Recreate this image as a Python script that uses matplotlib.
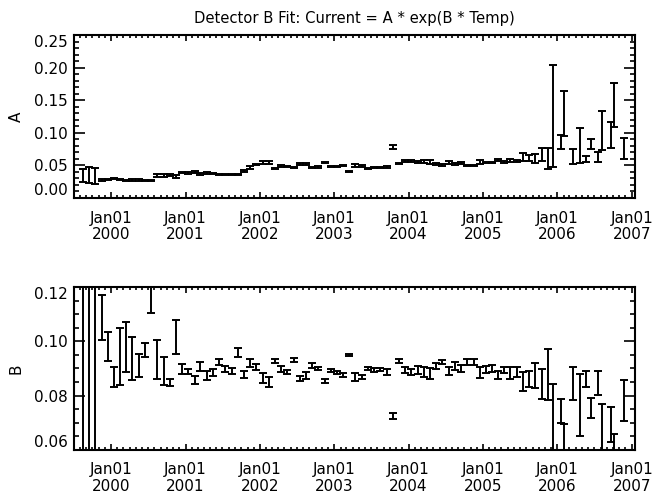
import numpy as np
import pandas as pd
import matplotlib
matplotlib.use('Agg')
from matplotlib import pyplot as plt
import matplotlib.dates as mdates
from matplotlib.ticker import MultipleLocator, FixedLocator

# one fit per (roughly) month; A and B with their 1-sigma errors
dates = ['1999-08-15', '1999-09-15', '1999-10-15', '1999-11-15', '1999-12-15',
         '2000-01-15', '2000-02-15', '2000-03-15', '2000-04-15', '2000-05-15', '2000-06-15',
         '2000-07-15', '2000-08-15', '2000-09-15', '2000-10-15', '2000-11-15', '2000-12-15',
         '2001-01-15', '2001-02-15', '2001-03-15', '2001-04-15', '2001-05-15', '2001-06-15',
         '2001-07-15', '2001-08-15', '2001-09-15', '2001-10-15', '2001-11-15', '2001-12-15',
         '2002-01-15', '2002-02-15', '2002-03-15', '2002-04-15', '2002-05-15', '2002-06-15',
         '2002-07-15', '2002-08-15', '2002-09-15', '2002-10-15', '2002-11-15', '2002-12-15',
         '2003-01-15', '2003-02-15', '2003-03-15', '2003-04-15', '2003-05-15', '2003-06-15',
         '2003-07-15', '2003-08-15', '2003-09-15', '2003-10-15', '2003-11-15', '2003-12-15',
         '2004-01-15', '2004-02-15', '2004-03-15', '2004-04-15', '2004-05-15', '2004-06-15',
         '2004-07-15', '2004-08-15', '2004-09-15', '2004-10-15', '2004-11-15', '2004-12-15',
         '2005-01-15', '2005-02-15', '2005-03-15', '2005-04-15', '2005-05-15', '2005-06-15',
         '2005-07-15', '2005-08-15', '2005-09-15', '2005-10-15', '2005-11-15', '2005-12-09',
         '2006-01-17', '2006-02-04', '2006-03-17', '2006-04-20', '2006-05-19', '2006-06-14',
         '2006-07-17', '2006-08-08', '2006-09-21', '2006-10-05', '2006-11-22']

a_val = [0.0344, 0.0354, 0.0341, 0.0270, 0.0283,
         0.0299, 0.0280, 0.0270, 0.0273, 0.0273, 0.0268,
         0.0262, 0.0347, 0.0347, 0.0352, 0.0327, 0.0393,
         0.0383, 0.0399, 0.0368, 0.0388, 0.0380, 0.0365,
         0.0365, 0.0365, 0.0355, 0.0414, 0.0467, 0.0511,
         0.0545, 0.0540, 0.0452, 0.0490, 0.0480, 0.0468,
         0.0519, 0.0519, 0.0465, 0.0475, 0.0545, 0.0485,
         0.0485, 0.0496, 0.0407, 0.0500, 0.0490, 0.0452,
         0.0465, 0.0465, 0.0480, 0.0785, 0.0530, 0.0565,
         0.0565, 0.0552, 0.0557, 0.0552, 0.0524, 0.0504,
         0.0540, 0.0526, 0.0536, 0.0494, 0.0494, 0.0552,
         0.0545, 0.0550, 0.0578, 0.0557, 0.0573, 0.0567,
         0.0629, 0.0613, 0.0608, 0.0667, 0.0603, 0.1254,
         0.0856, 0.1293, 0.0634, 0.0802, 0.0595, 0.0825,
         0.0629, 0.1035, 0.0966, 0.1423, 0.0759]
a_err = [0.0101, 0.0123, 0.0124, 0.0015, 0.0013,
         0.0008, 0.0010, 0.0013, 0.0013, 0.0013, 0.0008,
         0.0008, 0.0026, 0.0026, 0.0010, 0.0026, 0.0010,
         0.0010, 0.0015, 0.0010, 0.0013, 0.0010, 0.0008,
         0.0008, 0.0008, 0.0008, 0.0015, 0.0028, 0.0010,
         0.0022, 0.0025, 0.0008, 0.0015, 0.0005, 0.0008,
         0.0013, 0.0013, 0.0010, 0.0010, 0.0008, 0.0010,
         0.0010, 0.0010, 0.0008, 0.0020, 0.0015, 0.0008,
         0.0010, 0.0010, 0.0015, 0.0033, 0.0010, 0.0013,
         0.0013, 0.0015, 0.0020, 0.0025, 0.0013, 0.0010,
         0.0025, 0.0015, 0.0015, 0.0005, 0.0005, 0.0031,
         0.0008, 0.0008, 0.0015, 0.0015, 0.0020, 0.0018,
         0.0061, 0.0046, 0.0067, 0.0100, 0.0164, 0.0780,
         0.0105, 0.0342, 0.0112, 0.0265, 0.0043, 0.0074,
         0.0077, 0.0299, 0.0199, 0.0335, 0.0161]

b_val = [0.0900, 0.0900, 0.0900, 0.1087, 0.0982,
         0.0869, 0.0944, 0.0979, 0.0936, 0.0910, 0.0967,
         0.1190, 0.0933, 0.0891, 0.0847, 0.1017, 0.0897,
         0.0889, 0.0858, 0.0907, 0.0875, 0.0885, 0.0923,
         0.0897, 0.0892, 0.0960, 0.0878, 0.0920, 0.0906,
         0.0866, 0.0850, 0.0927, 0.0898, 0.0887, 0.0932,
         0.0864, 0.0873, 0.0912, 0.0900, 0.0854, 0.0892,
         0.0886, 0.0876, 0.0950, 0.0870, 0.0870, 0.0900,
         0.0894, 0.0896, 0.0886, 0.0725, 0.0927, 0.0893,
         0.0887, 0.0894, 0.0887, 0.0883, 0.0908, 0.0924,
         0.0892, 0.0908, 0.0900, 0.0924, 0.0923, 0.0884,
         0.0895, 0.0900, 0.0875, 0.0894, 0.0883, 0.0888,
         0.0852, 0.0862, 0.0874, 0.0843, 0.0877, 0.0640,
         0.0743, 0.0580, 0.0844, 0.0765, 0.0861, 0.0754,
         0.0845, 0.0620, 0.0693, 0.0570, 0.0781]
b_err = [0.0600, 0.0600, 0.0600, 0.0083, 0.0054,
         0.0038, 0.0106, 0.0092, 0.0079, 0.0042, 0.0026,
         0.0087, 0.0073, 0.0050, 0.0013, 0.0063, 0.0018,
         0.0010, 0.0016, 0.0018, 0.0017, 0.0014, 0.0012,
         0.0011, 0.0011, 0.0017, 0.0012, 0.0016, 0.0012,
         0.0019, 0.0017, 0.0008, 0.0012, 0.0006, 0.0008,
         0.0010, 0.0013, 0.0009, 0.0007, 0.0008, 0.0006,
         0.0006, 0.0008, 0.0005, 0.0015, 0.0007, 0.0007,
         0.0007, 0.0007, 0.0011, 0.0012, 0.0008, 0.0011,
         0.0012, 0.0014, 0.0017, 0.0020, 0.0011, 0.0008,
         0.0015, 0.0015, 0.0014, 0.0010, 0.0011, 0.0020,
         0.0013, 0.0012, 0.0015, 0.0012, 0.0023, 0.0018,
         0.0036, 0.0029, 0.0045, 0.0055, 0.0094, 0.0202,
         0.0045, 0.0115, 0.0061, 0.0113, 0.0029, 0.0036,
         0.0044, 0.0148, 0.0065, 0.0088, 0.0075]

t = pd.to_datetime(dates)
x_range = [pd.Timestamp('1999-07-03'), pd.Timestamp('2007-01-17')]

plt.rcParams['font.family'] = 'DejaVu Sans'
fig = plt.figure(figsize=(6.61, 4.97), dpi=100)

panels = [
    ('A', a_val, a_err, (0.0, 0.25), 0.05, 0.01, [0.112, 0.6016, 0.8487, 0.328]),
    ('B', b_val, b_err, (0.06, 0.12), 0.02, 0.005, [0.112, 0.0946, 0.8487, 0.328]),
]

for name, val, err, ylim, major, minor, rect in panels:
    ax = fig.add_axes(rect)
    ax.errorbar(t, val, yerr=err, fmt='none', ecolor='black', elinewidth=1.4,
                capsize=3, capthick=1.4)
    ax.set_xlim(*x_range)
    ax.set_ylim(*ylim)

    ax.xaxis.set_major_locator(mdates.YearLocator())
    ax.xaxis.set_minor_locator(mdates.MonthLocator())
    ax.xaxis.set_major_formatter(mdates.DateFormatter('Jan01\n%Y'))

    yt = np.arange(ylim[0], ylim[1] + major / 2, major)
    ax.yaxis.set_major_locator(FixedLocator(yt))
    ax.yaxis.set_minor_locator(MultipleLocator(minor))
    ax.set_yticklabels(['%.2f' % v for v in yt])

    ax.tick_params(axis='both', which='both', direction='in', top=True, right=True,
                   labelsize=11, width=1.2, color='black')
    ax.tick_params(axis='x', which='major', length=4.5, pad=9)
    ax.tick_params(axis='x', which='minor', length=2.2)
    ax.tick_params(axis='y', which='major', length=8, pad=4.3)
    ax.tick_params(axis='y', which='minor', length=3.6)
    for lab in ax.get_xticklabels():
        lab.set_linespacing(1.1)

    yticks = ax.yaxis.get_major_ticks()
    yticks[0].label1.set_va('bottom')
    yticks[-1].label1.set_va('top')

    for s in ax.spines.values():
        s.set_linewidth(1.5)

    ax.set_ylabel(name, fontsize=11)
    ax.yaxis.set_label_coords(-0.09, 0.5)

fig.text(354.5 / 661, 1 - 18 / 497, 'Detector B Fit: Current = A * exp(B * Temp)',
         ha='center', va='center', fontsize=10.6)

fig.savefig('out.png', dpi=100)
